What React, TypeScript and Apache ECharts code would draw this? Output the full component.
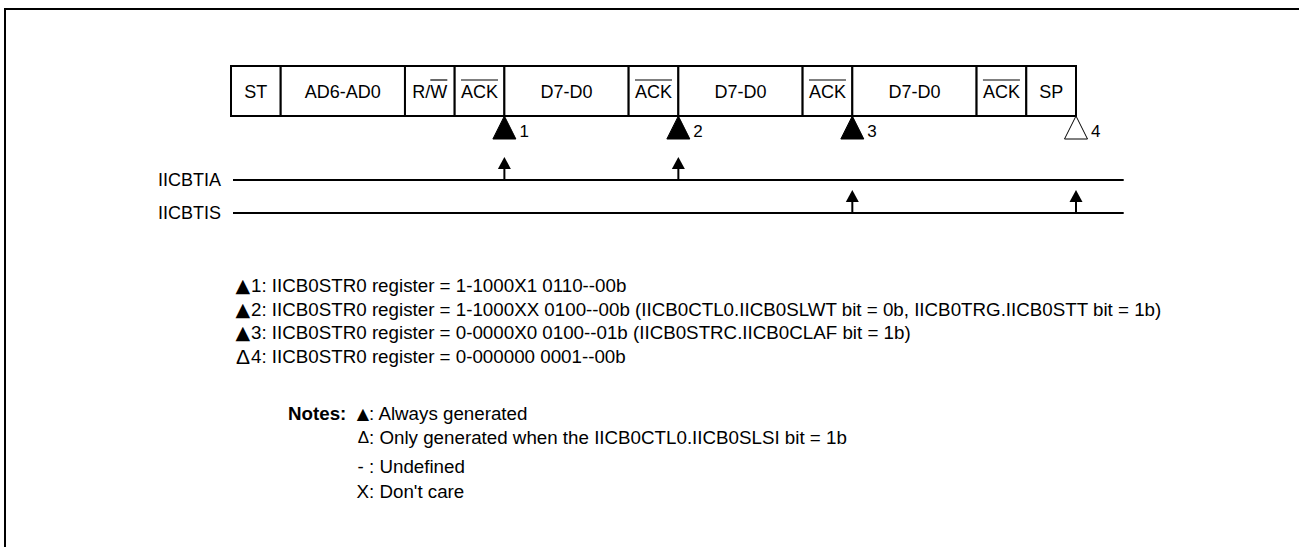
import React, { useEffect, useRef } from "react";
import * as echarts from "echarts";

// ---------- data ----------
const segmentLabels = ["ST", "AD6-AD0", "R/W", "ACK", "D7-D0", "ACK", "D7-D0", "ACK", "D7-D0", "ACK", "SP"];
const segmentWidths = [1, 2.5, 1, 1, 2.5, 1, 2.5, 1, 2.5, 1, 1];
const segmentOverline = ["", "", "W", "ACK", "", "ACK", "", "ACK", "", "ACK", ""];
const eventPositions = [5.5, 9, 12.5, 17];
const eventLabels = ["1", "2", "3", "4"];
const eventAlways = [true, true, true, false];
const signalNames = ["IICBTIA", "IICBTIS"];
const signalEvents = [[5.5, 9], [12.5, 17]];
const timeMax = 18;
const registerSymbols = ["▲", "▲", "▲", "Δ"];
const registerLines = [
  "1: IICB0STR0 register = 1-1000X1 0110--00b",
  "2: IICB0STR0 register = 1-1000XX 0100--00b (IICB0CTL0.IICB0SLWT bit = 0b, IICB0TRG.IICB0STT bit = 1b)",
  "3: IICB0STR0 register = 0-0000X0 0100--01b (IICB0STRC.IICB0CLAF bit = 1b)",
  "4: IICB0STR0 register = 0-000000 0001--00b",
];
const notesTitle = "Notes:";
const noteSymbols = ["▲", "Δ", "- ", "X"];
const noteTexts = [
  ": Always generated",
  ": Only generated when the IICB0CTL0.IICB0SLSI bit = 1b",
  ": Undefined",
  ": Don't care",
];

// ---------- layout ----------
const W = 1299;
const H = 547;
const UNIT = 845 / 17;
const GRID_LEFT = 231;
const BOX_TOP = 66;
const BOX_BOTTOM = 116;
const OVERLINE_Y = 80;
const TRI_BOTTOM = 139;
const SIGNAL_Y = [180, 213];
const FONT = "Arial, 'Liberation Sans', sans-serif";
const FS = 18;
const TFS = 18.75;
const LIST_Y = [285, 309, 332, 356];
const NOTE_Y = [413, 437, 466, 491];

function measure(text: string, size: number, weight = "normal") {
  const c = document.createElement("canvas").getContext("2d");
  if (!c) return text.length * size * 0.55;
  c.font = `${weight} ${size}px Arial, 'Liberation Sans', sans-serif`;
  return c.measureText(text).width;
}

function symbolStyle(sym: string, big: boolean) {
  if (sym === "▲") {
    return { text: sym, fontSize: big ? 19 : 16, fontFamily: "'DejaVu Sans'" };
  }
  if (sym === "Δ") {
    return { text: sym, fontSize: big ? 21 : 17, fontFamily: FONT };
  }
  return { text: sym, fontSize: TFS, fontFamily: FONT };
}

export default function App() {
  const ref = useRef<HTMLDivElement>(null);
  useEffect(() => {
    if (!ref.current) return;
    const chart = echarts.init(ref.current, undefined, { renderer: "svg" });

    const starts: number[] = [];
    let acc = 0;
    segmentWidths.forEach((w) => {
      starts.push(acc);
      acc += w;
    });
    const segData = segmentWidths.map((w, i) => [starts[i], starts[i] + w, i]);
    const eventData = eventPositions.map((p, i) => [p, i]);
    const signalData = signalNames.map((_, i) => [0, timeMax, i]);
    const arrowData: number[][] = [];
    signalEvents.forEach((list, row) => list.forEach((p) => arrowData.push([p, row])));

    const graphics: any[] = [
      { type: "line", shape: { x1: 4, y1: 9, x2: W, y2: 9 }, style: { stroke: "#000", lineWidth: 2 } },
      { type: "line", shape: { x1: 5, y1: 8, x2: 5, y2: H }, style: { stroke: "#000", lineWidth: 2 } },
    ];
    registerLines.forEach((t, i) => {
      graphics.push({
        type: "text", x: 250, y: LIST_Y[i],
        style: { ...symbolStyle(registerSymbols[i], true), fill: "#000", align: "right", verticalAlign: "middle" },
      });
      graphics.push({
        type: "text", x: 251, y: LIST_Y[i],
        style: { text: t, fontSize: TFS, fontFamily: FONT, fill: "#000", align: "left", verticalAlign: "middle" },
      });
    });
    graphics.push({
      type: "text", x: 288, y: NOTE_Y[0],
      style: { text: notesTitle, fontSize: TFS, fontWeight: "bold", fontFamily: FONT, fill: "#000", align: "left", verticalAlign: "middle" },
    });
    noteTexts.forEach((t, i) => {
      graphics.push({
        type: "text", x: 369, y: NOTE_Y[i],
        style: { ...symbolStyle(noteSymbols[i], false), fill: "#000", align: "right", verticalAlign: "middle" },
      });
      graphics.push({
        type: "text", x: 369, y: NOTE_Y[i],
        style: { text: t, fontSize: TFS, fontFamily: FONT, fill: "#000", align: "left", verticalAlign: "middle" },
      });
    });

    chart.setOption({
      animation: false,
      backgroundColor: "#fff",
      grid: { left: GRID_LEFT, right: W - GRID_LEFT - timeMax * UNIT, top: 0, bottom: 0 },
      xAxis: { type: "value", min: 0, max: timeMax, show: false },
      yAxis: { type: "value", min: 0, max: H, inverse: true, show: false },
      graphic: graphics,
      series: [
        {
          type: "custom",
          data: segData,
          encode: { x: [0, 1] },
          clip: false,
          renderItem: (params: any, api: any) => {
            const i = api.value(2);
            const p0 = api.coord([api.value(0), BOX_TOP]);
            const p1 = api.coord([api.value(1), BOX_BOTTOM]);
            const cx = (p0[0] + p1[0]) / 2;
            const cy = (p0[1] + p1[1]) / 2;
            const label = segmentLabels[i];
            const children: any[] = [
              { type: "rect", shape: { x: p0[0], y: p0[1], width: p1[0] - p0[0], height: p1[1] - p0[1] }, style: { fill: "#fff", stroke: "#000", lineWidth: 2 } },
              { type: "text", x: cx, y: cy + 1, style: { text: label, fontSize: FS, fontFamily: FONT, fill: "#000", align: "center", verticalAlign: "middle" } },
            ];
            const ov = segmentOverline[i];
            if (ov) {
              const full = measure(label, FS);
              const part = measure(ov, FS);
              const right = cx + full / 2;
              const oy = api.coord([0, OVERLINE_Y])[1];
              children.push({ type: "line", shape: { x1: right - part, y1: oy, x2: right, y2: oy }, style: { stroke: "#000", lineWidth: 1.2 } });
            }
            return { type: "group", children };
          },
        },
        {
          type: "custom",
          data: eventData,
          encode: { x: 0 },
          clip: false,
          renderItem: (params: any, api: any) => {
            const i = api.value(1);
            const top = api.coord([api.value(0), BOX_BOTTOM]);
            const bot = api.coord([api.value(0), TRI_BOTTOM]);
            return {
              type: "group",
              children: [
                { type: "polygon", shape: { points: [[top[0], top[1]], [top[0] - 11.5, bot[1]], [top[0] + 11.5, bot[1]]] }, style: { fill: eventAlways[i] ? "#000" : "#fff", stroke: "#000", lineWidth: 1 } },
                { type: "text", x: top[0] + 15, y: bot[1] - 8, style: { text: eventLabels[i], fontSize: FS - 1, fontFamily: FONT, fill: "#000", align: "left", verticalAlign: "middle" } },
              ],
            };
          },
        },
        {
          type: "custom",
          data: signalData,
          encode: { x: [0, 1] },
          clip: false,
          renderItem: (params: any, api: any) => {
            const row = api.value(2);
            const a = api.coord([api.value(0), SIGNAL_Y[row]]);
            const b = api.coord([api.value(1), SIGNAL_Y[row]]);
            return {
              type: "group",
              children: [
                { type: "line", shape: { x1: a[0] + 2, y1: a[1], x2: b[0] - 2, y2: b[1] }, style: { stroke: "#000", lineWidth: 2 } },
                { type: "text", x: a[0] - 10, y: a[1], style: { text: signalNames[row], fontSize: FS, fontFamily: FONT, fill: "#000", align: "right", verticalAlign: "middle" } },
              ],
            };
          },
        },
        {
          type: "custom",
          data: arrowData,
          encode: { x: 0 },
          clip: false,
          renderItem: (params: any, api: any) => {
            const row = api.value(1);
            const p = api.coord([api.value(0), SIGNAL_Y[row]]);
            return {
              type: "group",
              children: [
                { type: "line", shape: { x1: p[0], y1: p[1], x2: p[0], y2: p[1] - 13 }, style: { stroke: "#000", lineWidth: 2 } },
                { type: "polygon", shape: { points: [[p[0], p[1] - 23], [p[0] - 6.5, p[1] - 11], [p[0] + 6.5, p[1] - 11]] }, style: { fill: "#000" } },
              ],
            };
          },
        },
      ],
    });
    return () => chart.dispose();
  }, []);
  return <div ref={ref} style={{ position: "absolute", left: 0, top: 0, width: W, height: H, background: "#fff" }} />;
}
